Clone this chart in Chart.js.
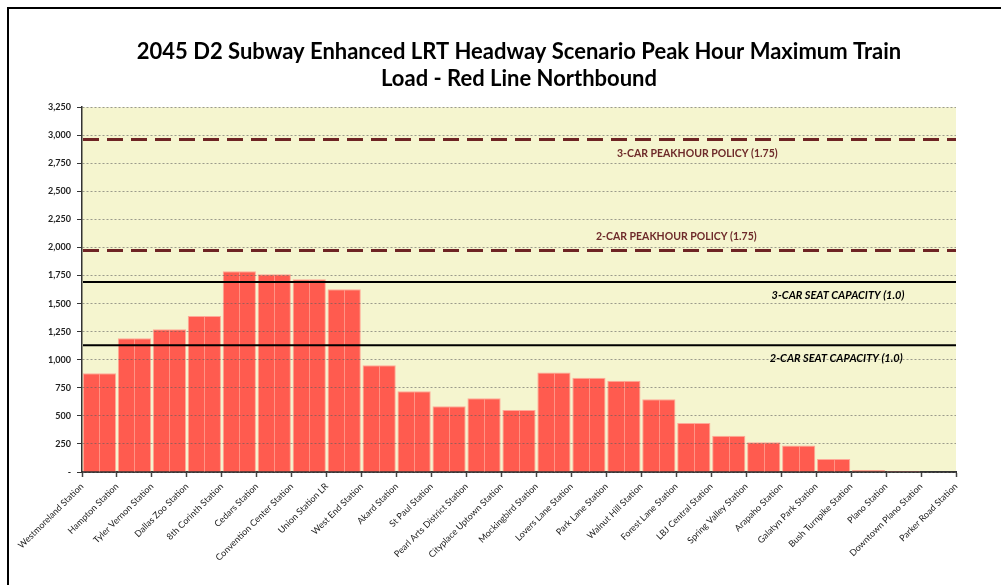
<!DOCTYPE html>
<html>
<head>
<meta charset="utf-8">
<script src="https://cdn.jsdelivr.net/npm/chart.js@4"></script>
<style>
  html, body { margin: 0; padding: 0; background: #fff; }
  #wrap { position: relative; width: 1001px; height: 585px; overflow: hidden; }
  canvas { position: absolute; left: 0; top: 0; }
  #frame { position: absolute; left: 7px; top: 7px; width: 1100px; height: 700px;
           border-left: 2px solid #000; border-top: 2px solid #000; pointer-events: none; }
</style>
</head>
<body>
<div id="wrap">
  <canvas id="c" width="1001" height="585"></canvas>
  <div id="frame"></div>
</div>
<script>
// ---- data ----
const stations = [
  "Westmoreland Station", "Hampton Station", "Tyler Vernon Station", "Dallas Zoo Station",
  "8th Corinth Station", "Cedars Station", "Convention Center Station", "Union Station LR",
  "West End Station", "Akard Station", "St Paul Station", "Pearl Arts District Station",
  "Cityplace Uptown Station", "Mockingbird Station", "Lovers Lane Station", "Park Lane Station",
  "Walnut Hill Station", "Forest Lane Station", "LBJ Central Station", "Spring Valley Station",
  "Arapaho Station", "Galatyn Park Station", "Bush Turnpike Station", "Plano Station",
  "Downtown Plano Station", "Parker Road Station"
];
// load on each segment, from a station to the next one
const loads = [880, 1192, 1272, 1390, 1788, 1762, 1717, 1628, 950, 720, 585, 656, 552,
               887, 840, 813, 649, 436, 322, 265, 236, 115, 18, 8, 5];
const refNames = ["2-CAR SEAT CAPACITY (1.0)", "3-CAR SEAT CAPACITY (1.0)",
                  "2-CAR PEAKHOUR POLICY (1.75)", "3-CAR PEAKHOUR POLICY (1.75)"];
const refValues = [1128, 1692, 1974, 2961];
const yTicksMax = 3250;
const yStep = 250;
const titleLines = ["2045 D2 Subway Enhanced LRT Headway Scenario Peak Hour Maximum Train",
                    "Load - Red Line Northbound"];

const segments = stations.slice(0, stations.length - 1);

const bgPlugin = {
  id: 'plotBg',
  beforeDraw(chart) {
    const a = chart.chartArea, ctx = chart.ctx;
    ctx.save();
    ctx.fillStyle = '#F5F5CF';
    ctx.fillRect(a.left, a.top, a.right - a.left, a.bottom - a.top);
    ctx.restore();
  }
};

const dividerPlugin = {
  id: 'divider',
  afterDatasetsDraw(chart) {
    const ctx = chart.ctx;
    const meta = chart.getDatasetMeta(0);
    ctx.save();
    ctx.strokeStyle = 'rgba(255,165,150,0.75)';
    ctx.lineWidth = 1;
    meta.data.forEach(el => {
      if (el.base - el.y < 3) return;
      ctx.beginPath();
      ctx.moveTo(Math.round(el.x) + 0.5, el.y + 1);
      ctx.lineTo(Math.round(el.x) + 0.5, el.base);
      ctx.stroke();
    });
    ctx.restore();
  }
};

const refPlugin = {
  id: 'refLines',
  afterDraw(chart) {
    const ctx = chart.ctx, a = chart.chartArea, ys = chart.scales.y;
    const w = a.right - a.left;
    const styles = [
      {color: '#000', dash: [], width: 2, font: 'italic bold 11px Lato', fx: 0.863, dy: 13},
      {color: '#000', dash: [], width: 2, font: 'italic bold 11px Lato', fx: 0.865, dy: 13},
      {color: '#6E2424', dash: [16, 8], width: 3, font: 'bold 10.5px Lato', fx: 0.68, dy: -14, tc: '#6E2A2A'},
      {color: '#6E2424', dash: [16, 8], width: 3, font: 'bold 10.5px Lato', fx: 0.704, dy: 14, tc: '#6E2A2A'}
    ];
    refValues.forEach((v, i) => {
      const s = styles[i];
      const y = ys.getPixelForValue(v);
      ctx.save();
      ctx.strokeStyle = s.color;
      ctx.lineWidth = s.width;
      ctx.setLineDash(s.dash);
      ctx.beginPath();
      ctx.moveTo(a.left + 1, y);
      ctx.lineTo(a.right, y);
      ctx.stroke();
      ctx.setLineDash([]);
      ctx.fillStyle = s.tc || '#000';
      ctx.font = s.font;
      ctx.textAlign = 'center';
      ctx.textBaseline = 'middle';
      ctx.fillText(refNames[i], a.left + w * s.fx, y + s.dy);
      ctx.restore();
    });
  }
};

new Chart(document.getElementById('c'), {
  type: 'bar',
  data: {
    labels: segments,
    datasets: [{
      label: 'Maximum Train Load',
      data: loads,
      backgroundColor: '#FF5B4F',
      borderColor: '#FFA998',
      borderWidth: 1,
      categoryPercentage: 1.0,
      barPercentage: 0.95,
      xAxisID: 'x',
      yAxisID: 'y'
    }]
  },
  options: {
    responsive: false,
    animation: false,
    devicePixelRatio: 1,
    layout: { padding: { left: 0, right: 45, top: 0, bottom: 0 } },
    plugins: {
      legend: { display: false },
      tooltip: { enabled: false },
      title: {
        display: true,
        fullSize: false,
        text: titleLines,
        color: '#000',
        font: { family: 'Lato', size: 22, weight: 'bold', lineHeight: 1.23 },
        padding: { top: 38, bottom: 15 }
      }
    },
    scales: {
      x: {
        type: 'category',
        display: false,
        offset: true,
        grid: { display: false }
      },
      x2: {
        type: 'category',
        position: 'bottom',
        labels: stations,
        offset: false,
        afterFit(scale) { scale.height = 113; },
        grid: { drawOnChartArea: false, drawTicks: true, tickLength: 5, tickColor: '#444', tickWidth: 1.5, offset: false },
        border: { display: true, color: '#333', width: 2 },
        ticks: {
          autoSkip: false, minRotation: 45, maxRotation: 45, padding: 4,
          color: '#1a1a1a', font: { family: 'Lato', size: 9 }
        }
      },
      y: {
        min: 0,
        max: yTicksMax,
        afterFit(scale) { scale.width = 82; },
        grid: { color: 'rgba(95,95,95,0.6)', lineWidth: 1, tickColor: '#333', tickLength: 5,
                tickBorderDash: [], z: 1 },
        border: { display: true, color: '#333', width: 1.5, dash: [2, 2], z: 1 },
        ticks: {
          stepSize: yStep,
          padding: 6,
          color: '#222',
          font: { family: 'Lato', size: 9, weight: 'bold' },
          callback: v => v === 0 ? '-' : v.toLocaleString('en-US')
        }
      }
    }
  },
  plugins: [bgPlugin, dividerPlugin, refPlugin]
});
</script>
</body>
</html>
